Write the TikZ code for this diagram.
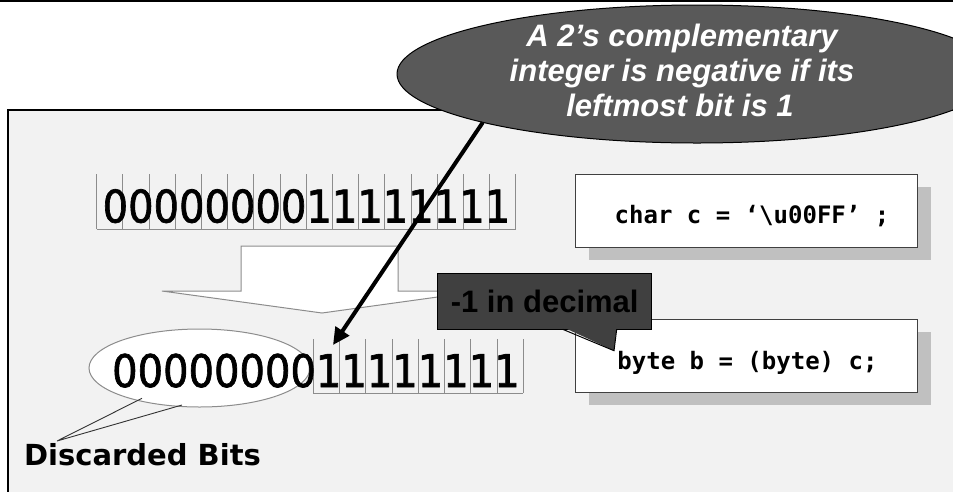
\documentclass[tikz,border=0pt]{standalone}
\usepackage{fontspec}
\usetikzlibrary{arrows.meta,shapes.geometric,shadows}
\newfontfamily\digitfont[FakeStretch=0.89,FakeBold=1.5]{DejaVu Sans}
\newfontfamily\dvsans{DejaVu Sans}
\newfontfamily\arialfont{Liberation Sans}
\newfontfamily\codefont{DejaVu Sans Mono}
\definecolor{panelgrey}{HTML}{F2F2F2}
\definecolor{notegrey}{HTML}{595959}
\definecolor{decgrey}{HTML}{404040}
\definecolor{shadowgrey}{HTML}{C0C0C0}
\definecolor{cellgrey}{HTML}{8C8C8C}
\definecolor{boxborder}{HTML}{404040}
\tikzset{
  panel/.style={fill=panelgrey, draw=black, line width=1.5pt},
  celline/.style={draw=cellgrey, line width=1pt},
  digits/.style={inner sep=0pt, font=\digitfont\fontsize{45}{54}\selectfont, text=black},
  hollow/.style={fill=white, draw=cellgrey, line width=1pt, line join=miter},
  discell/.style={ellipse, fill=white, draw=cellgrey, line width=1pt, minimum width=221pt, minimum height=78pt, inner sep=0pt},
  discline/.style={draw=black!80, line width=0.9pt},
  disctext/.style={inner sep=0pt, font=\dvsans\bfseries\fontsize{29}{34}\selectfont},
  codebox/.style={rectangle, fill=white, draw=boxborder, line width=1pt, minimum width=342pt, minimum height=73pt, inner sep=0pt,
     drop shadow={shadow xshift=13pt, shadow yshift=-12.5pt, fill=shadowgrey, opacity=1}},
  codetext/.style={inner sep=0pt, font=\codefont\bfseries\fontsize{24}{28}\selectfont},
  decbox/.style={rectangle, fill=decgrey, draw=black, line width=1pt, minimum width=214pt, minimum height=56pt, inner sep=0pt,
     font=\arialfont\bfseries\fontsize{31}{36}\selectfont, text=black},
  notestyle/.style={ellipse, fill=notegrey, draw=black, line width=1pt, minimum width=600pt, minimum height=138pt, inner sep=0pt},
  notetext/.style={inner sep=0pt, text=white, font=\arialfont\bfseries\itshape\fontsize{31}{36}\selectfont},
  bigarrow/.style={draw=black, line width=4pt, -{Triangle[length=17pt,width=16pt]}}
}
\begin{document}
\begin{tikzpicture}[x=1pt,y=-1pt]
\useasboundingbox (0,0) rectangle (953,491);
\clip (0,0) rectangle (953,491);
\fill[white] (0,0) rectangle (953,491);
\draw[line width=1.5pt] (0,1) -- (953,1);
% panel
\draw[panel] (8,110) rectangle (975,510);
% cells row 1
\foreach \i in {0,...,16} {
  \draw[celline] ({96.7+26.2*\i},174) -- ({96.7+26.2*\i},229);
}
\draw[celline] (96.7,229) -- (516,229);
% cells row 2
\foreach \i in {0,...,8} {
  \draw[celline] ({313.3+26.25*\i},339) -- ({313.3+26.25*\i},393);
}
\draw[celline] (313.3,393) -- (523.3,393);
% row 1 digits
\node[digits, anchor=base] (row1) at (306.5,222.5) {0000000011111111};
% hollow arrow
\draw[hollow] (241,246) -- (398,246) -- (398,291) -- (481,291) -- (322,313) -- (162,291) -- (241,291) -- cycle;
% discarded ellipse
\node[discell] (discell) at (199.5,368) {};
\node[digits, anchor=base] (row2) at (316,387) {0000000011111111};
\coordinate (dtip) at (57,441);
\coordinate (de1) at (142,398.3);
\coordinate (de2) at (182,405);
\draw[discline] (de1) -- (dtip) -- (de2);
\node[disctext, anchor=base] (disc) at (142.5,465) {Discarded Bits};
% code boxes
\node[codebox] (code1) at (746.7,210.7) {};
\node[codetext, anchor=base] (code1t) at (752,223) {char c = ‘\textbackslash u00FF’ ;};
\node[codebox] (code2) at (746.7,355.8) {};
\node[codetext, anchor=base] (code2t) at (747.5,369) {byte b = (byte) c;};
% -1 in decimal callout
\node[decbox] (dec) at (544.7,301.3) {-1 in decimal};
\fill[decgrey] (562.7,327) -- (614,350.7) -- (616.7,327) -- cycle;
\draw[black, line width=1pt, line join=miter] (562.7,329.3) -- (614,350.7) -- (616.7,329.3);
% note ellipse
\node[notestyle] (note) at (697,74) {};
\node[notetext, anchor=base] (nt1) at (682,46.7) {A 2’s complementary};
\node[notetext, anchor=base] (nt2) at (682,81.7) {integer is negative if its};
\node[notetext, anchor=base] (nt3) at (680,116.5) {leftmost bit is 1};
% black arrow
\coordinate (a1) at (482.7,122.5);
\coordinate (a2) at (333,345);
\draw[bigarrow] (a1) -- (a2);
\end{tikzpicture}
\end{document}
